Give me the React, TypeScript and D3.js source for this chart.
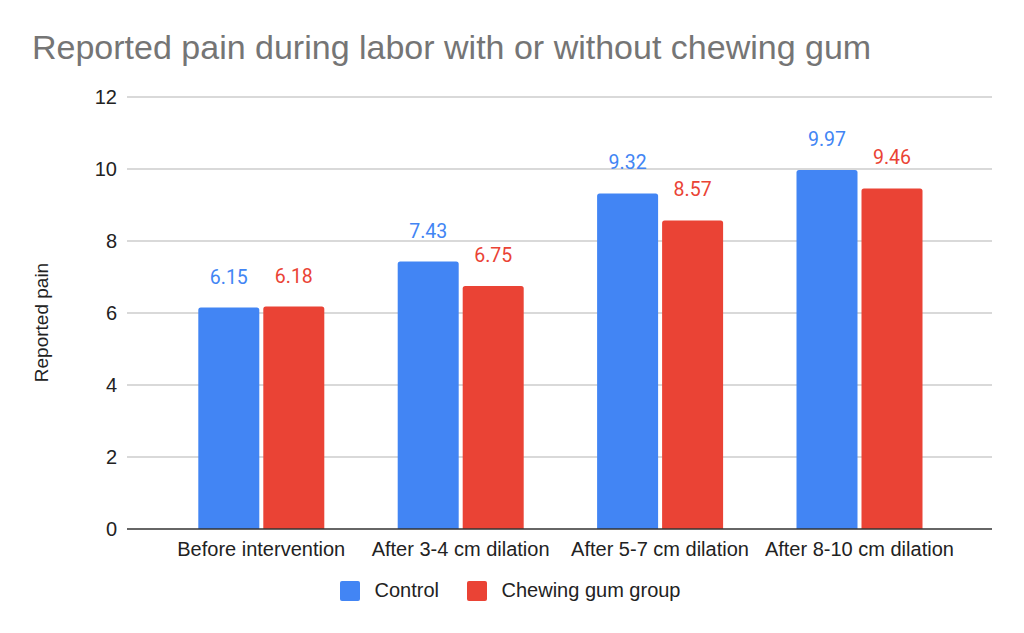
import React from "react";
import * as d3 from "d3";

const categories = [
  "Before intervention",
  "After 3-4 cm dilation",
  "After 5-7 cm dilation",
  "After 8-10 cm dilation",
];
const seriesNames = ["Control", "Chewing gum group"];
const controlValues = [6.15, 7.43, 9.32, 9.97];
const gumValues = [6.18, 6.75, 8.57, 9.46];
const yTicks = [0, 2, 4, 6, 8, 10, 12];
const title = "Reported pain during labor with or without chewing gum";
const yAxisTitle = "Reported pain";

const COLORS = ["#4285F4", "#EA4335"];
const W = 1024;
const H = 633;
const ARIAL = "'Liberation Sans', Arial, sans-serif";
const ROBOTO = "Roboto, 'Liberation Sans', sans-serif";

function topRoundedRect(x: number, y: number, w: number, h: number, r: number) {
  const rr = Math.min(r, h / 2, w / 2);
  return `M${x},${y + h}V${y + rr}Q${x},${y} ${x + rr},${y}H${x + w - rr}Q${x + w},${y} ${x + w},${y + rr}V${y + h}Z`;
}

export default function App() {
  const y = d3.scaleLinear().domain([0, 12]).range([529, 97]);
  const x0 = d3.scaleBand<string>().domain(categories).range([161.5, 959.1]).padding(0);
  const x1 = d3
    .scaleBand<string>()
    .domain(seriesNames)
    .range([36.8, 162.8])
    .paddingInner(0.0615)
    .paddingOuter(0);
  const series = [controlValues, gumValues];
  const gridLeft = 127;
  const gridRight = 992;

  return (
    <svg
      width={W}
      height={H}
      style={{ position: "absolute", left: 0, top: 0, background: "#fff" }}
    >
      <rect x={0} y={0} width={W} height={H} fill="#fff" />
      <text x={32} y={59} fontFamily={ARIAL} fontSize={34} fill="#757575">
        {title}
      </text>

      {yTicks.map((t) => (
        <g key={t}>
          {t !== 0 && (
            <line
              x1={gridLeft}
              x2={gridRight}
              y1={y(t)}
              y2={y(t)}
              stroke="#cccccc"
              strokeWidth={1.3}
            />
          )}
          <text
            x={117}
            y={y(t)}
            dy="0.35em"
            textAnchor="end"
            fontFamily={ARIAL}
            fontSize={20}
            fill="#222"
          >
            {t}
          </text>
        </g>
      ))}

      <text
        transform={`translate(48,322.5) rotate(-90)`}
        textAnchor="middle"
        fontFamily={ARIAL}
        fontSize={19}
        fill="#222"
      >
        {yAxisTitle}
      </text>

      {categories.map((c, ci) => (
        <g key={c} transform={`translate(${x0(c)},0)`}>
          {seriesNames.map((s, si) => {
            const v = series[si][ci];
            const bx = x1(s) as number;
            const bw = x1.bandwidth();
            const top = y(v);
            return (
              <g key={s}>
                <path
                  d={topRoundedRect(bx, top, bw, y(0) - top, 2.5)}
                  fill={COLORS[si]}
                />
                <text
                  x={bx + bw / 2}
                  y={top - 24}
                  textAnchor="middle"
                  fontFamily={ROBOTO}
                  fontSize={19.5}
                  fill={COLORS[si]}
                >
                  {v.toFixed(2)}
                </text>
              </g>
            );
          })}
          <text
            x={x0.bandwidth() / 2}
            y={555.5}
            textAnchor="middle"
            fontFamily={ARIAL}
            fontSize={20}
            fill="#222"
          >
            {c}
          </text>
        </g>
      ))}

      <line
        x1={gridLeft}
        x2={gridRight}
        y1={y(0)}
        y2={y(0)}
        stroke="#333"
        strokeWidth={1.5}
      />

      {seriesNames.map((s, si) => {
        const lx = [340, 467][si];
        return (
          <g key={s}>
            <rect x={lx} y={581} width={20} height={20} rx={2} fill={COLORS[si]} />
            <text
              x={lx + 34.5}
              y={597}
              fontFamily={ARIAL}
              fontSize={20}
              fill="#222"
            >
              {s}
            </text>
          </g>
        );
      })}
    </svg>
  );
}
